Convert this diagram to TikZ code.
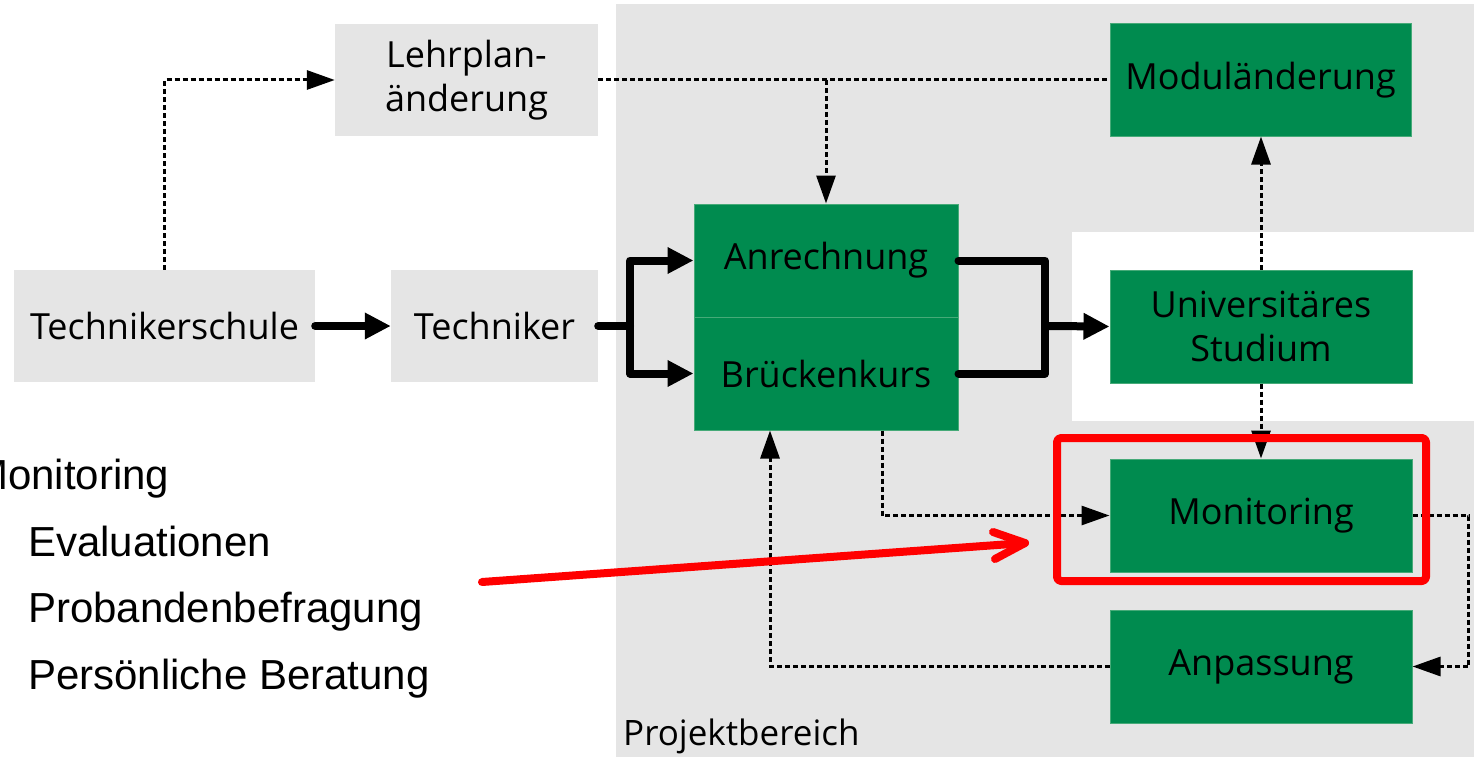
\documentclass[tikz,border=0pt]{standalone}
\usepackage{fontspec}
\setmainfont{Open Sans}
\newfontfamily\arialfont{Liberation Sans}
\usetikzlibrary{arrows.meta,calc}
\definecolor{pgreen}{RGB}{0,139,79}
\definecolor{pedge}{RGB}{70,170,120}
\definecolor{pgray}{RGB}{229,229,229}
\definecolor{pred}{RGB}{255,0,0}
\tikzset{
  box/.style={rectangle, inner sep=0pt, align=center, font=\fontsize{36}{44}\selectfont, text=black},
  greenbox/.style={box, fill=pgreen, draw=pedge, line width=1pt},
  graybox/.style={box, fill=pgray},
  thickline/.style={line width=8pt, line cap=round, line join=round},
  thickarrow/.style={thickline, -{Triangle[length=26pt,width=25pt]}},
  dotline/.style={line width=3pt, dash pattern=on 5pt off 3pt},
  dotarrow/.style={dotline, -{Triangle[length=28pt,width=19pt]}},
  redline/.style={pred, line width=8pt, line cap=round, line join=round},
  listtext/.style={anchor=base west, inner sep=0pt, font=\arialfont\fontsize{42}{50}\selectfont},
}
\begin{document}
\begin{tikzpicture}[x=1pt,y=-1pt]
\useasboundingbox (0,0) rectangle (1474,757);
% project area
\fill[pgray] (616,4) rectangle (1474,757);
\fill[white] (1072,232) rectangle (1474,421);
\node[anchor=base west, inner sep=0pt, font=\fontsize{35}{40}\selectfont] (proj) at (623,745) {Projektbereich};

% boxes
\node[graybox, minimum width=263pt, minimum height=112pt] (lehr) at (466.5,80) {Lehrplan-\\änderung};
\node[graybox, minimum width=301pt, minimum height=112pt] (schule) at (164.5,326) {Technikerschule};
\node[graybox, minimum width=207pt, minimum height=112pt] (techn) at (494.5,326) {Techniker};
\node[greenbox, minimum width=301pt, minimum height=112pt] (modul) at (1260.5,80) {Moduländerung};
\node[greenbox, minimum width=264pt, minimum height=113pt] (anr) at (826,260.5) {Anrechnung};
\node[greenbox, minimum width=264pt, minimum height=113pt] (brk) at (826,373.5) {Brückenkurs};
\node[greenbox, minimum width=302pt, minimum height=113pt] (univ) at (1261,326.5) {Universitäres\\Studium};
\node[greenbox, minimum width=302pt, minimum height=113pt] (monit) at (1261,515.5) {Monitoring};
\node[greenbox, minimum width=302pt, minimum height=113pt] (anp) at (1261,666.5) {Anpassung};

% thick connectors
\draw[thickarrow] (schule.east) -- (techn.west);
\coordinate (s1) at (630,326);
\draw[thickline] (techn.east) -- (s1);
\draw[thickarrow] (s1) |- (anr.west);
\draw[thickarrow] (s1) |- (brk.west);
\coordinate (s2) at (1045,326);
\draw[thickline] (anr.east) -| (s2) |- (brk.east);
\draw[thickarrow] (s2) -- (univ.west);

% dotted connectors
\draw[dotarrow] (schule.north) |- (lehr.west);
\draw[dotline] (lehr.east) -- (modul.west);
\coordinate (j1) at (anr.north |- lehr.east);
\draw[dotarrow] (j1) -- (anr.north);
\draw[dotarrow] (univ.north) -- (univ.north |- modul.south);
\draw[dotarrow] (univ.south) -- (univ.south |- monit.north);
\draw[dotarrow] ([xshift=56pt]brk.south) |- (monit.west);
\draw[dotarrow] (monit.east) -- ++(56,0) |- (anp.east);
\draw[dotarrow] (anp.west) -| ([xshift=-56pt]brk.south);

% red highlight
\draw[redline, rounded corners=4pt] (1057,438) rectangle (1426,581);
\coordinate (rs) at (482,582);
\coordinate (rt) at (1025,543);
\draw[redline] (rs) -- (rt);
\draw[redline] ($(rt)+(-32,-11)$) -- (rt) -- ($(rt)+(-30,16)$);

% list text
\node[listtext] (l1) at (-27,489) {Monitoring};
\node[listtext] (l2) at (28,556) {Evaluationen};
\node[listtext] (l3) at (28,622) {Probandenbefragung};
\node[listtext] (l4) at (28,689) {Persönliche Beratung};
\end{tikzpicture}
\end{document}
